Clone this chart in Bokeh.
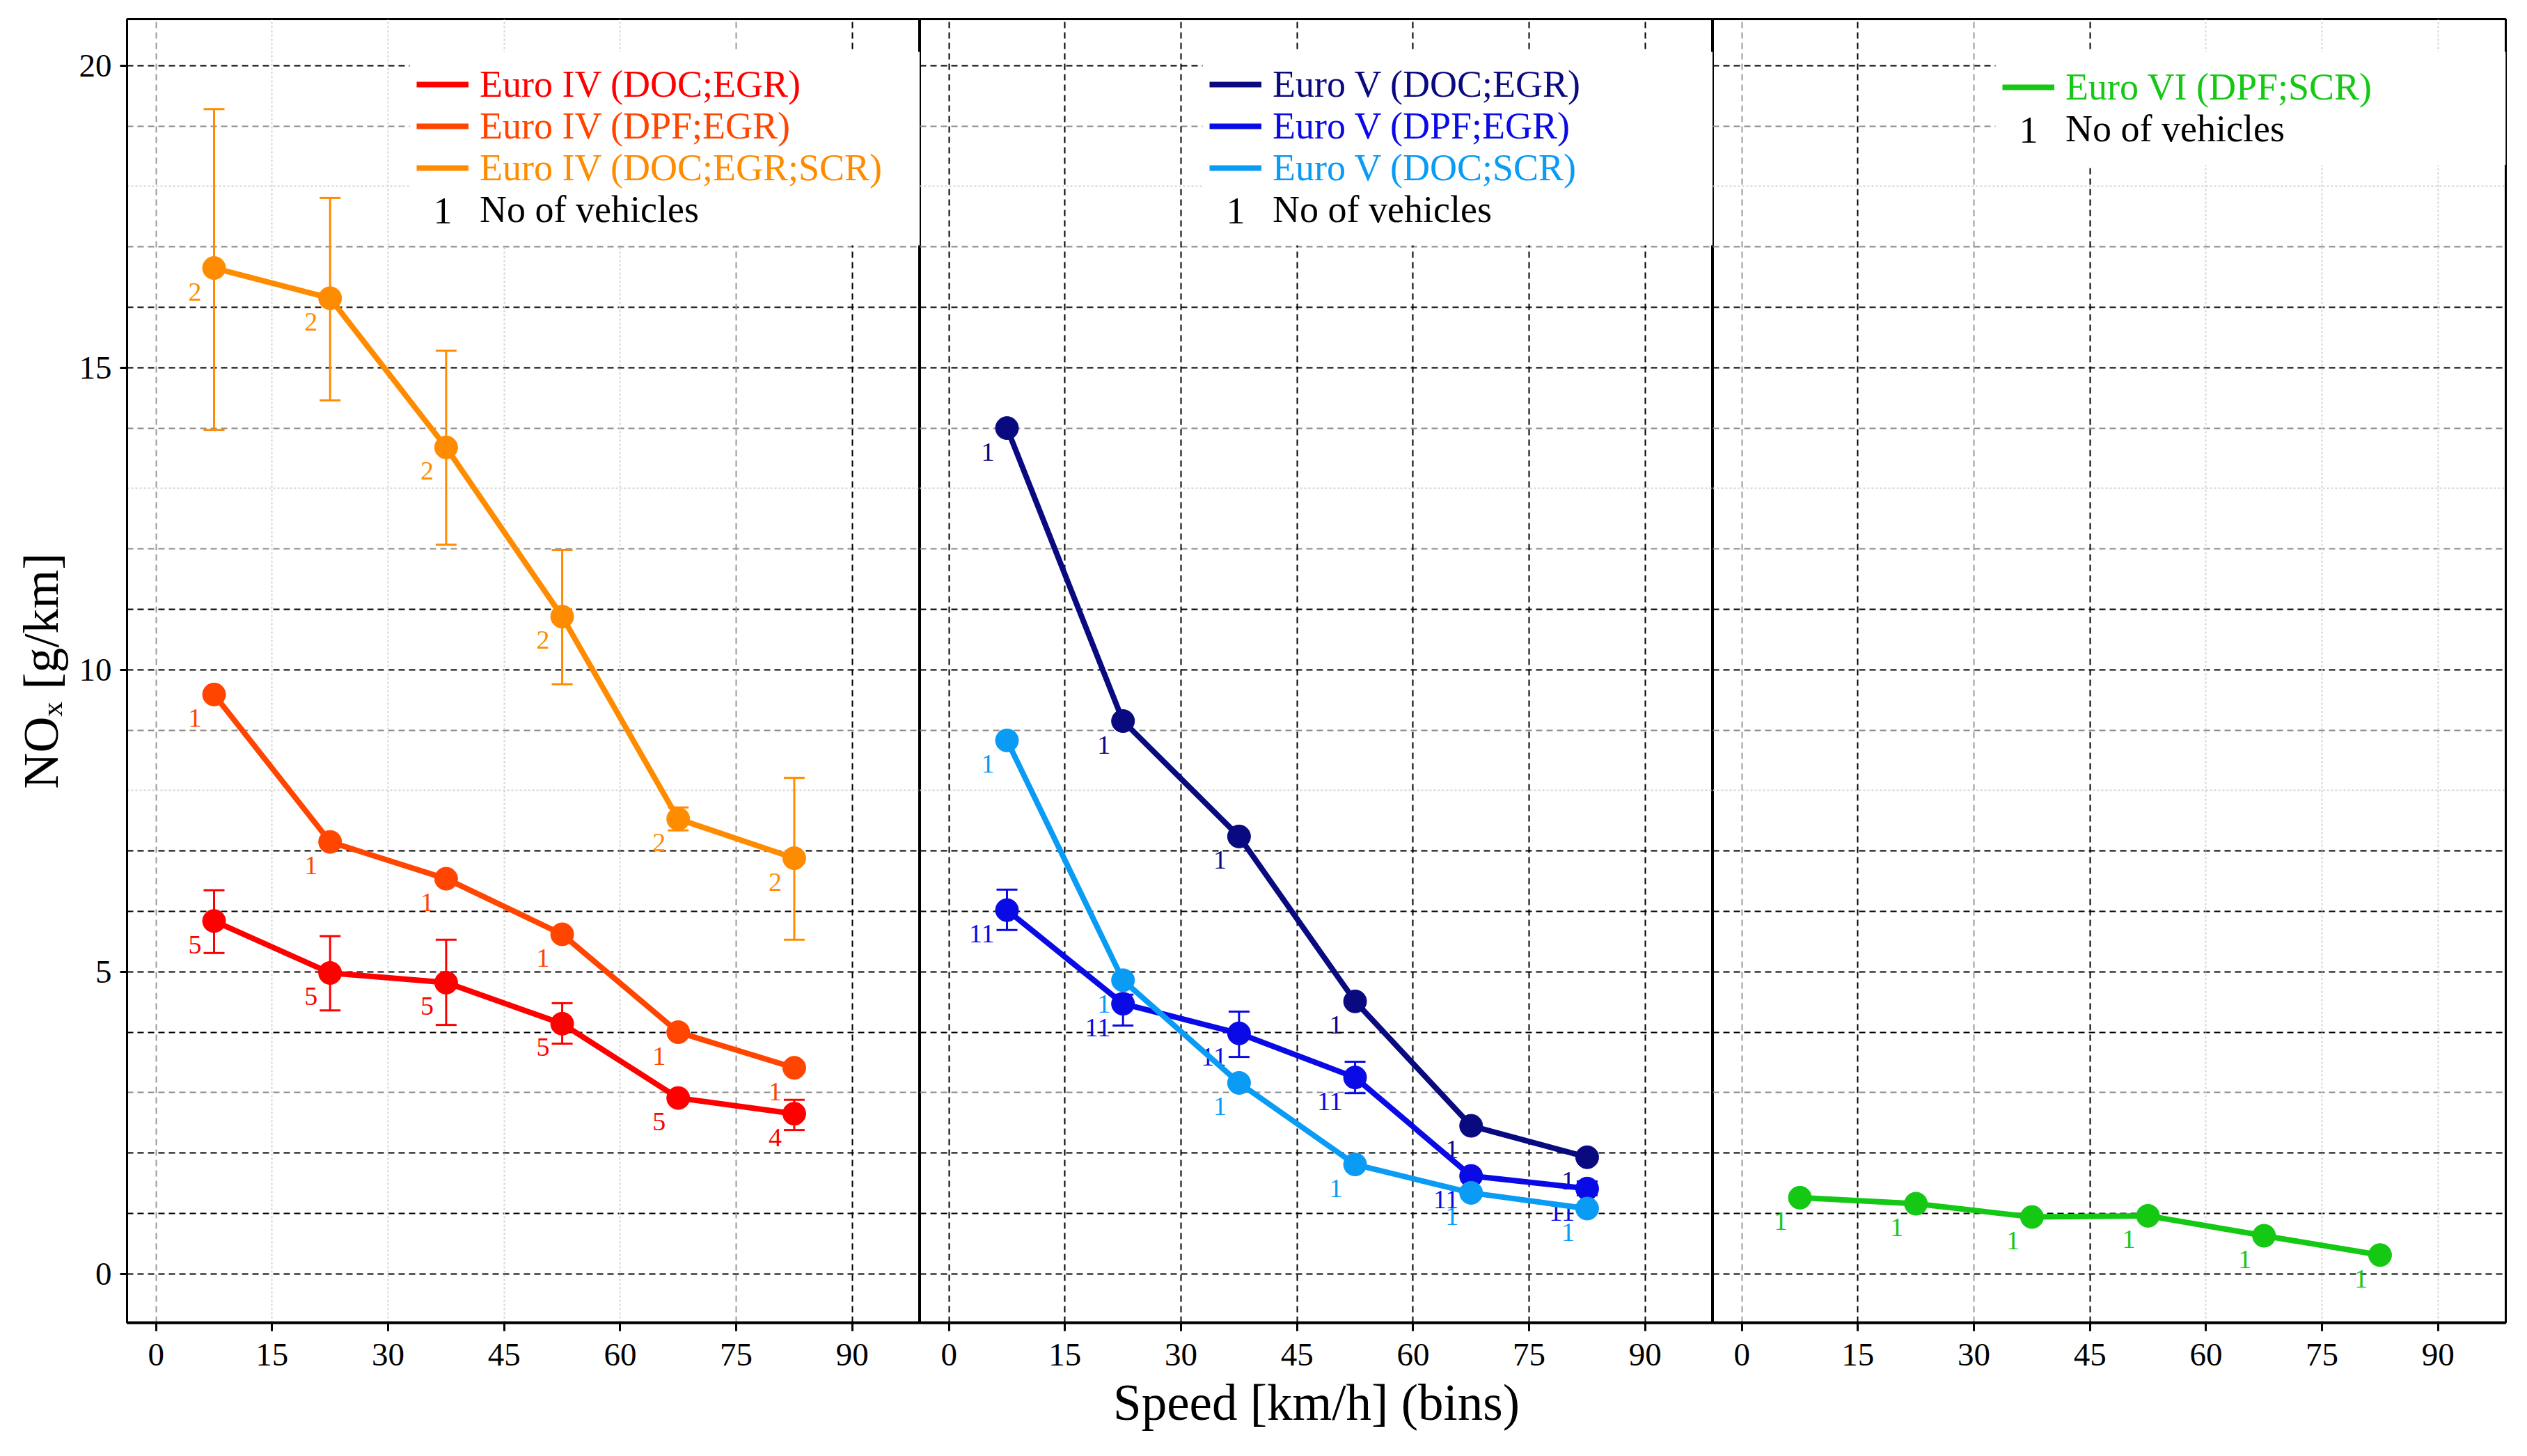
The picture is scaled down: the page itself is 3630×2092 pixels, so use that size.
from bokeh.plotting import figure
from bokeh.models import (ColumnDataSource, Range1d, FixedTicker, Grid, Whisker, TeeHead,
                          Legend, LegendItem, Label, BoxAnnotation)
from bokeh.layouts import row
from bokeh.core.properties import value
from bokeh.embed import file_html
from bokeh.resources import INLINE

# ---------------- data ----------------
speed_bins = [7.5, 22.5, 37.5, 52.5, 67.5, 82.5]
x_ticks = [0, 15, 30, 45, 60, 75, 90]
y_ticks = [0, 5, 10, 15, 20]

# Euro IV
e4_doc_egr = [5.84, 4.98, 4.82, 4.14, 2.91, 2.65]
e4_doc_egr_hi = [6.35, 5.59, 5.53, 4.48, 2.98, 2.88]
e4_doc_egr_lo = [5.31, 4.36, 4.12, 3.81, 2.84, 2.38]
e4_doc_egr_n = [5, 5, 5, 5, 5, 4]

e4_dpf_egr = [9.59, 7.15, 6.54, 5.62, 4.00, 3.41]
e4_dpf_egr_n = [1, 1, 1, 1, 1, 1]

e4_doc_egr_scr = [16.65, 16.15, 13.68, 10.88, 7.53, 6.88]
e4_doc_egr_scr_hi = [19.28, 17.81, 15.28, 11.98, 7.72, 8.21]
e4_doc_egr_scr_lo = [13.97, 14.46, 12.07, 9.76, 7.34, 5.53]
e4_doc_egr_scr_n = [2, 2, 2, 2, 2, 2]

# Euro V
e5_doc_egr = [14.0, 9.15, 7.24, 4.51, 2.45, 1.93]
e5_doc_egr_n = [1, 1, 1, 1, 1, 1]

e5_dpf_egr = [6.02, 4.47, 3.98, 3.25, 1.62, 1.41]
e5_dpf_egr_hi = [6.36, 4.62, 4.34, 3.51, 1.70, 1.53]
e5_dpf_egr_lo = [5.69, 4.11, 3.59, 2.99, 1.54, 1.30]
e5_dpf_egr_n = [11, 11, 11, 11, 11, 11]

e5_doc_scr = [8.83, 4.86, 3.16, 1.81, 1.34, 1.08]
e5_doc_scr_n = [1, 1, 1, 1, 1, 1]

# Euro VI
e6_dpf_scr = [1.26, 1.16, 0.94, 0.96, 0.63, 0.31]
e6_dpf_scr_n = [1, 1, 1, 1, 1, 1]

# gridline levels
h_dark = [0, 1, 2, 4, 5, 6, 7, 10, 11, 15, 16, 20]
h_gray = [3, 9, 12, 14, 17, 19]
h_light = [8, 13, 18]
v_grid = [
    {"dark": [90], "gray": [0, 75], "light": [15, 30, 45, 60]},
    {"dark": [0, 15, 30, 45, 60, 75, 90], "gray": [], "light": []},
    {"dark": [15, 45], "gray": [0, 30], "light": [60, 75, 90]},
]

panels = [
    [
        ("Euro IV (DOC;EGR)", "#FF0000", e4_doc_egr, e4_doc_egr_hi, e4_doc_egr_lo, e4_doc_egr_n),
        ("Euro IV (DPF;EGR)", "#FF4500", e4_dpf_egr, None, None, e4_dpf_egr_n),
        ("Euro IV (DOC;EGR;SCR)", "#FF8C00", e4_doc_egr_scr, e4_doc_egr_scr_hi, e4_doc_egr_scr_lo, e4_doc_egr_scr_n),
    ],
    [
        ("Euro V (DOC;EGR)", "#0A0A80", e5_doc_egr, None, None, e5_doc_egr_n),
        ("Euro V (DPF;EGR)", "#0A0AE6", e5_dpf_egr, e5_dpf_egr_hi, e5_dpf_egr_lo, e5_dpf_egr_n),
        ("Euro V (DOC;SCR)", "#0A9BF5", e5_doc_scr, None, None, e5_doc_scr_n),
    ],
    [
        ("Euro VI (DPF;SCR)", "#14C814", e6_dpf_scr, None, None, e6_dpf_scr_n),
    ],
]

# ---------------- layout constants ----------------
FONT = "Liberation Serif"
FW = 1139
FH = 1873
TOP = 27
BOTTOM = 176
LEFT = 182
RIGHT = 15
ROWH = 60
PITCH = 60
LEG_FS = "54px"

y_range = Range1d(-0.81, 20.77)


def style_grid(p, dim, ticks, color, dash, width):
    if not ticks:
        return
    g = Grid(dimension=dim, ticker=FixedTicker(ticks=ticks), grid_line_color=color,
             grid_line_dash=dash, grid_line_width=width)
    p.add_layout(g)


def make_panel(idx):
    first = idx == 0
    last = idx == 2
    mid = idx == 1
    p = figure(frame_width=FW, frame_height=FH,
               x_range=Range1d(-3.75, 98.75), y_range=y_range,
               y_axis_location="left" if first else None,
               output_backend="svg", toolbar_location=None,
               min_border_left=LEFT if first else 0,
               min_border_right=RIGHT if last else 0,
               min_border_top=TOP, min_border_bottom=BOTTOM,
               background_fill_color="white", border_fill_color="white")
    p.outline_line_color = "black"
    p.outline_line_width = 3
    p.outline_line_alpha = 1.0
    p.grid.visible = False

    xa = p.xaxis[0]
    xa.ticker = FixedTicker(ticks=x_ticks)
    xa.axis_line_width = 4
    xa.axis_line_color = "black"
    xa.major_tick_line_color = "black"
    xa.major_tick_line_width = 3
    xa.major_tick_out = 12
    xa.major_tick_in = 0
    xa.minor_tick_out = 0
    xa.minor_tick_in = 0
    xa.major_label_text_font = FONT
    xa.major_label_text_font_size = "47px"
    xa.major_label_text_color = "black"
    xa.major_label_standoff = 18
    if mid:
        xa.axis_label = "Speed [km/h] (bins)"
        xa.axis_label_text_font = FONT
        xa.axis_label_text_font_size = "73px"
        xa.axis_label_text_font_style = "normal"
        xa.axis_label_text_color = "black"
        xa.axis_label_standoff = 10

    if first:
        ya = p.yaxis[0]
        ya.ticker = FixedTicker(ticks=y_ticks)
        ya.axis_line_width = 3
        ya.axis_line_color = "black"
        ya.major_tick_line_color = "black"
        ya.major_tick_line_width = 3
        ya.major_tick_out = 10
        ya.major_tick_in = 0
        ya.minor_tick_out = 0
        ya.minor_tick_in = 0
        ya.major_label_text_font = FONT
        ya.major_label_text_font_size = "47px"
        ya.major_label_text_color = "black"
        ya.major_label_standoff = 12
        ya.axis_label = "NO\u2093 [g/km]"
        ya.axis_label_text_font = FONT
        ya.axis_label_text_font_size = "72px"
        ya.axis_label_text_font_style = "normal"
        ya.axis_label_text_color = "black"
        ya.axis_label_standoff = 12

    # gridlines
    style_grid(p, 1, h_light, "#d4d4d4", "3 3", 2)
    style_grid(p, 1, h_gray, "#8a8a8a", "9 6", 2)
    style_grid(p, 1, h_dark, "#000000", "9 6", 2)
    vg = v_grid[idx]
    style_grid(p, 0, vg["light"], "#d4d4d4", "3 3", 2)
    style_grid(p, 0, vg["gray"], "#9a9a9a", "9 6", 2)
    style_grid(p, 0, vg["dark"], "#000000", "9 6", 2)

    line_renderers = []
    for label, color, vals, hi, lo, counts in panels[idx]:
        data = dict(x=speed_bins, y=vals, n=[str(c) for c in counts])
        if hi is not None:
            data["upper"] = hi
            data["lower"] = lo
        src = ColumnDataSource(data)
        r = p.line(x="x", y="y", source=src, line_color=color, line_width=8)
        p.scatter(x="x", y="y", source=src, size=33, fill_color=color, line_color=color)
        if hi is not None:
            w = Whisker(base="x", upper="upper", lower="lower", source=src, dimension="height",
                        line_color=color, line_width=3,
                        upper_head=TeeHead(size=30, line_color=color, line_width=3),
                        lower_head=TeeHead(size=30, line_color=color, line_width=3))
            p.add_layout(w)
        p.text(x="x", y="y", text="n", source=src, text_color=color,
               text_font=value(FONT), text_font_size=value("38px"),
               text_align="right", text_baseline="middle", x_offset=-18, y_offset=34)
        line_renderers.append((label, color, r))

    # legend (one Legend per row so each label keeps its series colour)
    nrows = len(line_renderers) + 1
    center = 101.6 + 55.6 * (nrows - 1) / 2
    row0 = center - PITCH * (nrows - 1) / 2
    last_c = row0 + PITCH * (nrows - 1)
    box = BoxAnnotation(left=406, right=FW, top=FH - 47, bottom=FH - (last_c + 50),
                        left_units="screen", right_units="screen", top_units="screen",
                        bottom_units="screen", fill_color="white", fill_alpha=1.0,
                        line_alpha=0)
    p.add_layout(box)
    dummy = p.line(x=[], y=[], line_alpha=0)
    entries = line_renderers + [("No of vehicles", "black", dummy)]
    for i, (label, color, r) in enumerate(entries):
        yc = row0 + PITCH * i
        lg = Legend(items=[LegendItem(label=label, renderers=[r])],
                    location=(416, FH - yc - ROWH / 2),
                    padding=0, margin=0, spacing=0,
                    glyph_width=75, glyph_height=20, label_height=ROWH, label_standoff=16,
                    label_text_font=FONT, label_text_font_size=LEG_FS,
                    label_text_color=color, label_text_baseline="middle",
                    background_fill_alpha=0, border_line_alpha=0)
        p.add_layout(lg)
    p.add_layout(Label(x=416 + 37.5, y=FH - last_c, x_units="screen", y_units="screen",
                       text="1", text_font=FONT, text_font_size=LEG_FS,
                       text_align="center", text_baseline="middle", text_color="black"))
    return p


figs = [make_panel(i) for i in range(3)]
layout = row(*figs, spacing=0)

open("out.html", "w").write(file_html(layout, INLINE))
